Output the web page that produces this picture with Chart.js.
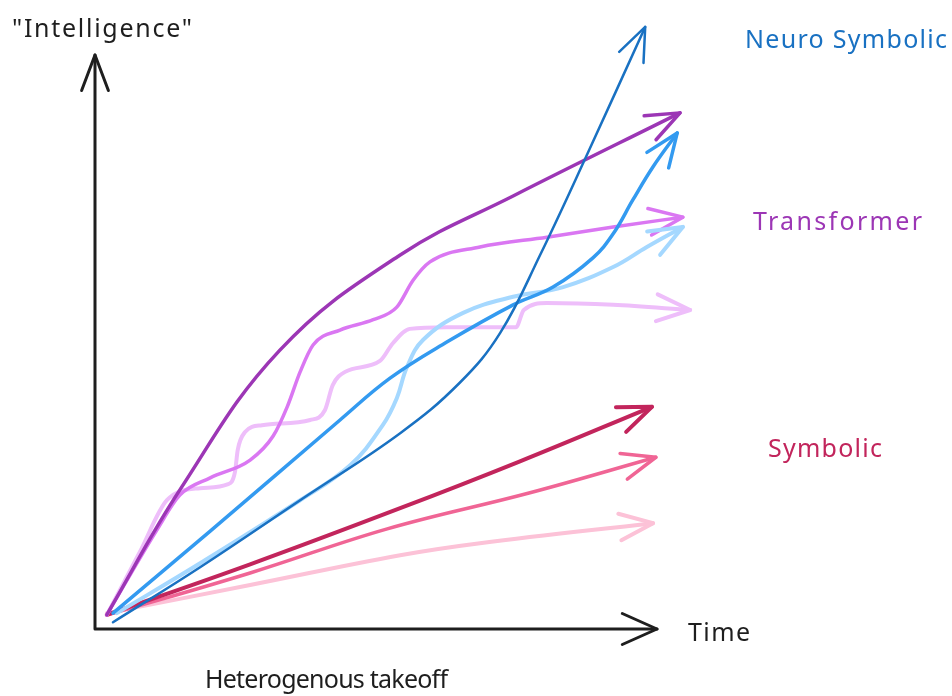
<!DOCTYPE html>
<html>
<head>
<meta charset="utf-8">
<script src="https://cdn.jsdelivr.net/npm/chart.js@4.4.1/dist/chart.umd.min.js"></script>
<style>
  html, body { margin: 0; padding: 0; background: #fff; }
  #wrap { width: 952px; height: 696px; position: relative; }
</style>
</head>
<body>
<div id="wrap"><canvas id="takeoff"></canvas></div>
<script>
// x = time (0-100 along the axis), y = "intelligence" (0-100 up the axis)
const neuroSymbolic = [[3.2, 1], [18.7, 10.6], [36.5, 22.3], [54.3, 34], [64.9, 42.8], [72.1, 51.5], [79.2, 65.1], [87.5, 82.5], [97.9, 104.9]];
const neuroMid = [[3.2, 2.6], [20.5, 16.9], [43.6, 36.3], [52.5, 43.6], [62.6, 49.9], [74.4, 56.4], [81.5, 59.5], [88.6, 64.6], [92.2, 68.8], [95.7, 74.7], [99.3, 80.5], [103.6, 86.4]];
const neuroLight = [[3.9, 2.6], [18.7, 11.3], [36.5, 22.3], [45.4, 28.4], [51.2, 35.4], [53.7, 40.1], [55.5, 45.5], [58.4, 50.3], [65.5, 55], [74.4, 57.8], [83.3, 59.5], [92.2, 63], [98.2, 66.5], [104.6, 70]];

const transformerMain = [[2.1, 2.3], [15.1, 24.1], [32.9, 48.5], [54.3, 65.1], [74.4, 75.4], [104.1, 89.9]];
const transformerWavy = [[2.1, 2.3], [11, 17.1], [15.1, 23.2], [20.5, 26.2], [27.6, 29.3], [31.7, 33.5], [34.2, 38.6], [36.5, 44.7], [38.8, 49.4], [43.6, 52], [49.5, 53.8], [53.7, 56], [56.6, 60.7], [59.6, 63.9], [68.5, 66.5], [80.4, 68.2], [92.2, 70], [104.6, 71.7]];
const transformerFlat = [[2.1, 2.3], [8, 13.3], [12.8, 22.3], [18.7, 24.4], [23.7, 25.1], [24.9, 27.2], [25.4, 31.1], [26.7, 34.2], [29.7, 35.4], [38.3, 36.3], [40.9, 38], [42.3, 42.4], [44.5, 44.7], [50.7, 46.6], [53, 49.7], [56, 52.2], [62.6, 52.5], [74.9, 52.5], [76.3, 55.5], [80.4, 56.7], [92.2, 56.4], [105.9, 55.5]];

const symbolicMain = [[2.1, 2.3], [27.6, 11.1], [54.3, 20.9], [75.4, 29], [99.1, 38.6]];
const symbolicMid = [[2.3, 2.3], [27.6, 9.6], [52, 17.3], [77.4, 23.6], [99.8, 29.8]];
const symbolicLight = [[2.1, 2.6], [27.6, 7.5], [54.3, 12.7], [68.5, 14.8], [99.3, 18.3]];

const seriesNames = ['Neuro Symbolic', 'Transformer', 'Symbolic'];
const axisTitles = ['"Intelligence"', 'Time'];
const caption = 'Heterogenous takeoff';

const INK = '#1e1e1e';
const FONT = '"Noto Sans", sans-serif';

function toPoints(arr) {
  return arr.map(([x, y]) => ({ x, y }));
}

function line(label, arr, color, width, wavy) {
  const ds = {
    label,
    data: toPoints(arr),
    borderColor: color,
    borderWidth: width,
    showLine: true,
    pointRadius: 0,
    pointHoverRadius: 0,
    clip: false,
  };
  if (wavy) ds.cubicInterpolationMode = 'monotone';
  else ds.tension = 0.4;
  return ds;
}

function drawHead(ctx, fx, fy, tx, ty, color, width, len, spread) {
  const ang = Math.atan2(ty - fy, tx - fx);
  ctx.save();
  ctx.strokeStyle = color;
  ctx.lineWidth = width;
  ctx.lineCap = 'round';
  ctx.lineJoin = 'round';
  ctx.beginPath();
  ctx.moveTo(tx - len * Math.cos(ang - spread), ty - len * Math.sin(ang - spread));
  ctx.lineTo(tx, ty);
  ctx.lineTo(tx - len * Math.cos(ang + spread), ty - len * Math.sin(ang + spread));
  ctx.stroke();
  ctx.restore();
}

// black axes with open arrowheads, drawn under the curves
const sketchAxes = {
  id: 'sketchAxes',
  beforeDatasetsDraw(chart) {
    const { ctx } = chart;
    const sx = chart.scales.x, sy = chart.scales.y;
    const ox = sx.getPixelForValue(0), oy = sy.getPixelForValue(0);
    const xt = sx.getPixelForValue(100), yt = sy.getPixelForValue(100);
    ctx.save();
    ctx.strokeStyle = INK;
    ctx.lineWidth = 3;
    ctx.lineCap = 'round';
    ctx.beginPath();
    ctx.moveTo(ox, oy + 1);
    ctx.lineTo(xt, oy + 1);
    ctx.moveTo(ox, oy + 1);
    ctx.lineTo(ox, yt);
    ctx.stroke();
    ctx.restore();
    drawHead(ctx, ox, oy + 1, xt, oy + 1, INK, 3, 38, 0.42);
    drawHead(ctx, ox, oy, ox, yt, INK, 3, 38, 0.36);
  }
};

// open arrowhead at the end of every curve, following its last tangent
const arrowHeads = {
  id: 'arrowHeads',
  afterDatasetsDraw(chart) {
    const { ctx } = chart;
    chart.data.datasets.forEach((ds, i) => {
      const pts = chart.getDatasetMeta(i).data;
      const tip = pts[pts.length - 1];
      let fx = tip.cp1x, fy = tip.cp1y;
      if (fx === undefined || Math.hypot(tip.x - fx, tip.y - fy) < 1) {
        fx = pts[pts.length - 2].x;
        fy = pts[pts.length - 2].y;
      }
      drawHead(ctx, fx, fy, tip.x, tip.y, ds.borderColor, ds.borderWidth, 36, 0.38);
    });
  }
};

const sketchLabels = {
  id: 'sketchLabels',
  afterDraw(chart) {
    const { ctx } = chart;
    const items = [
      { text: axisTitles[0], color: INK, x: 12, y: 37, w: 180 },
      { text: seriesNames[0], color: '#1971c2', x: 745, y: 48, w: 202 },
      { text: seriesNames[1], color: '#9c36b5', x: 753, y: 230, w: 169 },
      { text: seriesNames[2], color: '#c2255c', x: 768, y: 457, w: 114 },
      { text: axisTitles[1], color: INK, x: 688, y: 641, w: 62 },
      { text: caption, color: INK, x: 205, y: 688, w: 243 },
    ];
    ctx.save();
    ctx.textAlign = 'left';
    ctx.textBaseline = 'alphabetic';
    items.forEach(it => {
      ctx.font = '25px ' + FONT;
      ctx.letterSpacing = '0px';
      const m = ctx.measureText(it.text).width;
      const sp = (it.w - m) / Math.max(1, it.text.length - 1);
      ctx.letterSpacing = Math.max(-2, Math.min(4, sp)).toFixed(2) + 'px';
      ctx.fillStyle = it.color;
      ctx.fillText(it.text, it.x, it.y);
    });
    ctx.restore();
  }
};

new Chart(document.getElementById('takeoff'), {
  type: 'scatter',
  data: {
    datasets: [
      line(seriesNames[0], neuroSymbolic, '#1971c2', 2.5),
      line(seriesNames[1], transformerMain, '#9c36b5', 3.5),
      line(seriesNames[0], neuroMid, '#339af0', 3.5),
      line(seriesNames[1], transformerWavy, '#da77f2', 3.5, true),
      line(seriesNames[0], neuroLight, '#a5d8ff', 4),
      line(seriesNames[1], transformerFlat, '#eebefa', 4, true),
      line(seriesNames[2], symbolicMain, '#c2255c', 4),
      line(seriesNames[2], symbolicMid, '#f06595', 3.5),
      line(seriesNames[2], symbolicLight, '#fcc2d7', 4),
    ],
  },
  options: {
    responsive: true,
    maintainAspectRatio: false,
    animation: false,
    layout: { padding: { left: 95, right: 182.6, top: 55, bottom: 68 } },
    elements: { line: { capBezierPoints: false, borderCapStyle: 'round', borderJoinStyle: 'round' } },
    scales: {
      x: { type: 'linear', min: 0, max: 120, display: false },
      y: { type: 'linear', min: 0, max: 100, display: false },
    },
    plugins: {
      legend: { display: false },
      tooltip: { enabled: false },
    },
  },
  plugins: [sketchAxes, arrowHeads, sketchLabels],
});
</script>
</body>
</html>
